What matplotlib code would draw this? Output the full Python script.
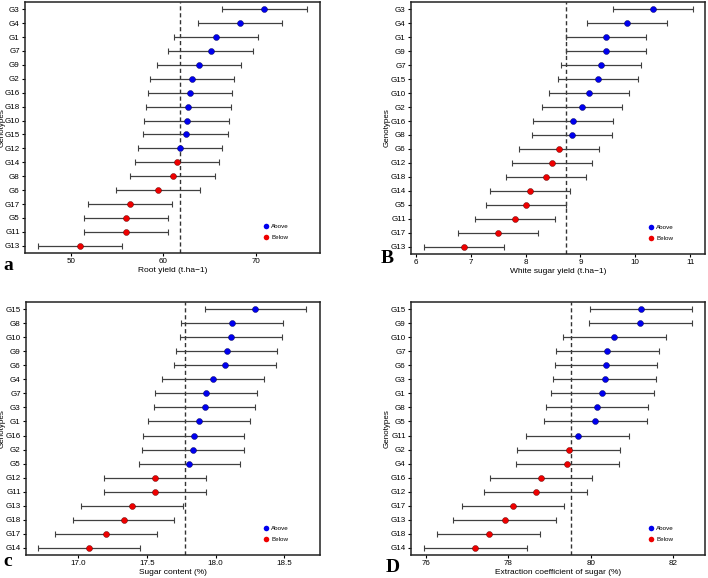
import matplotlib
matplotlib.use("Agg")
import matplotlib.pyplot as plt
from matplotlib.lines import Line2D

plt.rcParams['font.family'] = ['Liberation Sans', 'DejaVu Sans']

# Panel a: Root yield
a_geno = ["G3", "G4", "G1", "G7", "G9", "G2", "G16", "G18", "G10", "G15", "G12", "G14", "G8", "G6", "G17", "G5", "G11", "G13"]
a_mean = [70.9, 68.27, 65.7, 65.1, 63.85, 63.1, 62.9, 62.7, 62.5, 62.4, 61.8, 61.5, 61.0, 59.4, 56.4, 56.0, 56.0, 51.0]
a_err = 4.55
a_ref = 61.8
a_above = ["Above"] * 11 + ["Below"] * 7

# Panel B: White sugar yield
b_geno = ["G3", "G4", "G1", "G9", "G7", "G15", "G10", "G2", "G16", "G8", "G6", "G12", "G18", "G14", "G5", "G11", "G17", "G13"]
b_mean = [10.32, 9.855, 9.46, 9.46, 9.37, 9.32, 9.155, 9.03, 8.87, 8.85, 8.60, 8.48, 8.37, 8.08, 8.00, 7.81, 7.49, 6.87]
b_err = 0.73
b_ref = 8.74
b_above = ["Above"] * 10 + ["Below"] * 8

# Panel c: Sugar content
c_geno = ["G15", "G8", "G10", "G9", "G6", "G4", "G7", "G3", "G1", "G16", "G2", "G5", "G12", "G11", "G13", "G18", "G17", "G14"]
c_mean = [18.29, 18.12, 18.11, 18.08, 18.07, 17.98, 17.93, 17.92, 17.88, 17.84, 17.835, 17.81, 17.56, 17.56, 17.39, 17.33, 17.20, 17.08]
c_err = 0.37
c_ref = 17.78
c_above = ["Above"] * 12 + ["Below"] * 6

# Panel D: Extraction coefficient of sugar
d_geno = ["G15", "G9", "G10", "G7", "G6", "G3", "G1", "G8", "G5", "G11", "G2", "G4", "G16", "G12", "G17", "G13", "G18", "G14"]
d_mean = [81.22, 81.20, 80.57, 80.40, 80.37, 80.34, 80.28, 80.15, 80.11, 79.68, 79.46, 79.43, 78.79, 78.66, 78.11, 77.91, 77.52, 77.20]
d_err = 1.245
d_ref = 79.52
d_above = ["Above"] * 10 + ["Below"] * 8

colors = {"Above": "#0000ee", "Below": "#ee0000"}

W, H = 708, 578
fig = plt.figure(figsize=(W / 100, H / 100), dpi=100)


def add_ax(l, r, t, b):
    return fig.add_axes([l / W, 1 - b / H, (r - l) / W, (b - t) / H])


def panel(ax, geno, mean, err, ref, grp, xlim, xticks, xticklabels, xlabel, letter, letter_xy, ylab_x):
    n = len(geno)
    ys = list(range(n))
    ax.errorbar(mean, ys, xerr=err, fmt='none', ecolor='#404040', elinewidth=0.9,
                capsize=2.0, capthick=0.8, zorder=2)
    for m, y, g in zip(mean, ys, grp):
        ax.plot(m, y, 'o', ms=4.3, color=colors[g], mec='#550000' if g == "Below" else '#000055',
                mew=0.3, zorder=3)
    ax.axvline(ref, color='#333333', ls=(0, (3, 2)), lw=1.0, zorder=1)
    ax.set_yticks(ys)
    ax.set_yticklabels(geno, fontsize=5.8)
    ax.set_ylim(n - 0.48, -0.52)
    ax.set_xlim(*xlim)
    ax.set_xticks(xticks)
    ax.set_xticklabels(xticklabels, fontsize=5.8)
    ax.set_xlabel(xlabel, fontsize=6.0, labelpad=1)
    ax.set_ylabel("Genotypes", fontsize=5.8)
    ax.yaxis.set_label_coords(ylab_x, 0.5)
    ax.tick_params(length=2.5, width=0.8, pad=1.2)
    for s in ax.spines.values():
        s.set_linewidth(1.1)
        s.set_color('#222222')
    handles = [Line2D([], [], marker='o', ls='none', ms=4, color=colors["Above"], mew=0),
               Line2D([], [], marker='o', ls='none', ms=4, color=colors["Below"], mew=0)]
    ax.legend(handles, ["Above", "Below"], loc='lower right', bbox_to_anchor=(0.91, 0.035),
              frameon=False, fontsize=4.5, handletextpad=0.3, labelspacing=0.9, borderpad=0.2,
              handlelength=1.0)
    fig.text(letter_xy[0] / W, 1 - letter_xy[1] / H, letter, fontsize=14, fontweight='bold',
             family='Liberation Serif', ha='left', va='baseline')


ax1 = add_ax(25, 320, 2, 253)
panel(ax1, a_geno, a_mean, a_err, a_ref, a_above, (45.07, 76.9), [50, 60, 70], ["50", "60", "70"],
      "Root yield (t.ha\u22121)", "a", (3, 270), (6 - 25) / 295)

ax2 = add_ax(411, 705, 2, 254)
panel(ax2, b_geno, b_mean, b_err, b_ref, b_above, (5.91, 11.27), [6, 7, 8, 9, 10, 11],
      ["6", "7", "8", "9", "10", "11"], "White sugar yield (t.ha\u22121)", "B", (381, 263),
      (390.5 - 411) / 294)

ax3 = add_ax(26, 320, 302, 555)
panel(ax3, c_geno, c_mean, c_err, c_ref, c_above, (16.62, 18.76), [17.0, 17.5, 18.0, 18.5],
      ["17.0", "17.5", "18.0", "18.5"], "Sugar content (%)", "c", (3, 566), (6 - 26) / 294)

ax4 = add_ax(411, 705, 302, 555)
panel(ax4, d_geno, d_mean, d_err, d_ref, d_above, (75.64, 82.77), [76, 78, 80, 82],
      ["76", "78", "80", "82"], "Extraction coefficient of sugar (%)", "D", (386, 572),
      (390.5 - 411) / 294)

fig.savefig("out.png", dpi=100)
